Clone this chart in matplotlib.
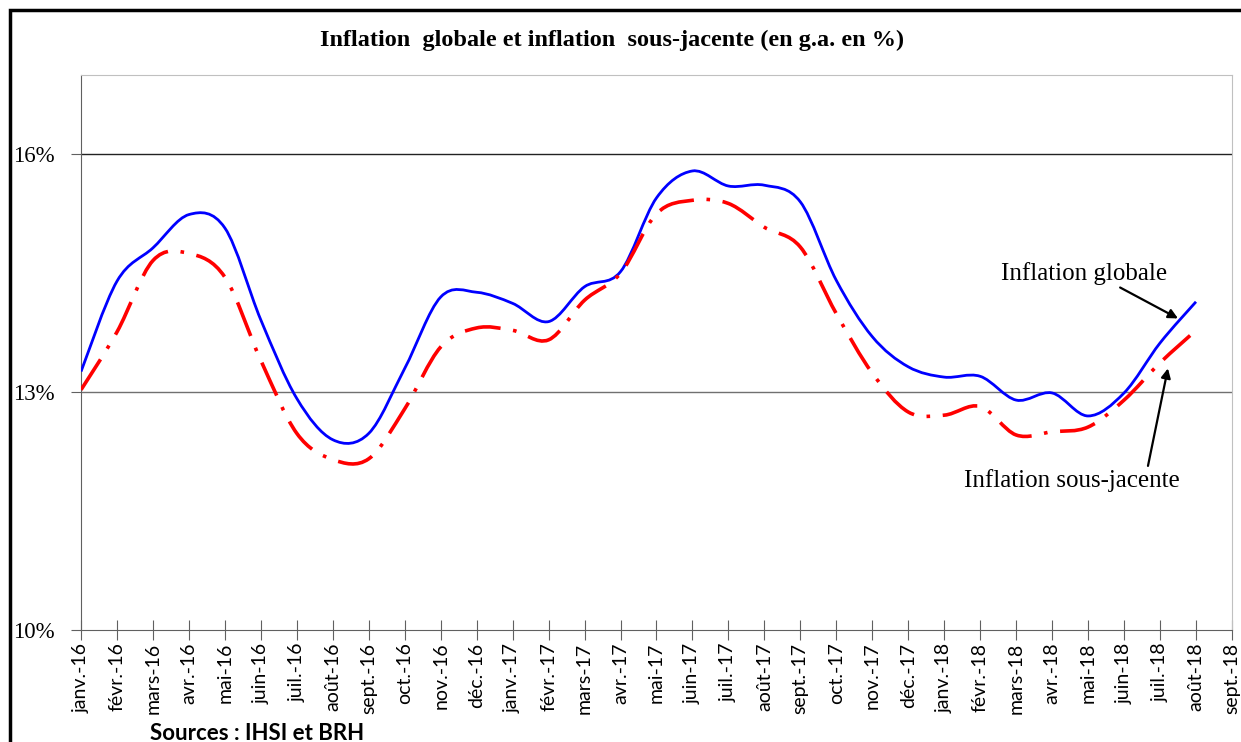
import numpy as np
import matplotlib
matplotlib.use("Agg")
import matplotlib.pyplot as plt
from matplotlib.path import Path
from matplotlib.patches import PathPatch, Rectangle

# categories (last month has no data)
months = ["janv.-16", "févr.-16", "mars-16", "avr.-16", "mai-16", "juin-16", "juil.-16",
          "août-16", "sept.-16", "oct.-16", "nov.-16", "déc.-16", "janv.-17", "févr.-17",
          "mars-17", "avr.-17", "mai-17", "juin-17", "juil.-17", "août-17", "sept.-17",
          "oct.-17", "nov.-17", "déc.-17", "janv.-18", "févr.-18", "mars-18", "avr.-18",
          "mai-18", "juin-18", "juil.-18", "août-18", "sept.-18"]

globale = [13.26, 14.40, 14.82, 15.24, 15.07, 13.91, 12.92, 12.40, 12.48, 13.30,
           14.20, 14.26, 14.12, 13.89, 14.33, 14.52, 15.45, 15.79, 15.60, 15.61,
           15.40, 14.41, 13.70, 13.32, 13.19, 13.20, 12.90, 12.99, 12.70, 12.99,
           13.62, 14.14]

sous_jacente = [13.03, 13.76, 14.66, 14.75, 14.45, 13.40, 12.48, 12.15, 12.16, 12.79,
                13.57, 13.81, 13.78, 13.66, 14.16, 14.50, 15.25, 15.42, 15.38, 15.08,
                14.83, 13.99, 13.24, 12.75, 12.71, 12.82, 12.46, 12.50, 12.56, 12.90,
                13.37, 13.78]

y_ticks = [10, 13, 16]


def smooth_path(ys):
    """Bezier path through the points, Excel-style smoothed line."""
    xs = np.arange(len(ys), dtype=float)
    ys = np.asarray(ys, dtype=float)
    pts = np.column_stack([xs, ys])
    n = len(pts)
    verts = [pts[0]]
    codes = [Path.MOVETO]
    for i in range(n - 1):
        p0 = pts[i - 1] if i > 0 else pts[i]
        p1 = pts[i]
        p2 = pts[i + 1]
        p3 = pts[i + 2] if i + 2 < n else pts[i + 1]
        c1 = p1 + (p2 - p0) / 6.0
        c2 = p2 - (p3 - p1) / 6.0
        verts += [c1, c2, p2]
        codes += [Path.CURVE4] * 3
    return Path(verts, codes)


fig = plt.figure(figsize=(12.41, 7.42), dpi=100, facecolor="white")
ax = fig.add_axes([0.0653, 0.1509, 0.9274, 0.748])

# frame around the whole chart
fig.patches.append(Rectangle((0.008, -0.05), 1.1, 1.037, transform=fig.transFigure,
                             fill=False, edgecolor="black", lw=2.5, zorder=0))

ax.add_patch(PathPatch(smooth_path(globale), facecolor="none", edgecolor="#0000ff",
                       lw=2.0, zorder=3))
ax.add_patch(PathPatch(smooth_path(sous_jacente), facecolor="none", edgecolor="#ff0000",
                       lw=2.6, linestyle=(0, (10, 3.5, 1, 3.5)), zorder=3))

ax.set_xlim(0, len(months) - 1)
ax.set_ylim(10, 17)
ax.set_xticks(range(len(months)))
ax.set_xticklabels(months, rotation=90, fontfamily="Lato", fontsize=14)
ax.set_yticks(y_ticks)
ax.set_yticklabels([f"{v}%" for v in y_ticks], fontfamily="Liberation Serif", fontsize=16.5)

ax.axhline(16, color="#222222", lw=1.0, zorder=1)
ax.axhline(13, color="#707070", lw=1.0, zorder=1)

for s in ["top", "right"]:
    ax.spines[s].set_color("#c0c0c0")
for s in ["left", "bottom"]:
    ax.spines[s].set_color("#606060")
ax.tick_params(axis="y", direction="out", length=7, color="#606060", pad=12)
ax.tick_params(axis="x", direction="inout", length=14, color="#606060", pad=2)

fig.text(0.493, 0.945, "Inflation  globale et inflation  sous-jacente (en g.a. en %)",
         ha="center", va="center", fontfamily="Liberation Serif", fontweight="bold",
         fontsize=17.5)

ax.annotate("Inflation globale", xy=(30.5, 13.93), xytext=(27.88, 14.50),
            ha="center", va="center", fontfamily="Liberation Serif", fontsize=18,
            arrowprops=dict(arrowstyle="-|>", color="black", lw=1.6, mutation_scale=14,
                            shrinkA=0, shrinkB=0, relpos=(0.61, 0.3)))
ax.annotate("Inflation sous-jacente", xy=(30.22, 13.30), xytext=(27.55, 11.89),
            ha="center", va="center", fontfamily="Liberation Serif", fontsize=18,
            arrowprops=dict(arrowstyle="-|>", color="black", lw=1.6, mutation_scale=14,
                            shrinkA=0, shrinkB=0, relpos=(0.85, 1.0)))

fig.text(0.121, 0.012, "Sources : IHSI et BRH", ha="left", va="center",
         fontfamily="Lato", fontweight="bold", fontsize=16)

fig.savefig("out.png", dpi=100)
